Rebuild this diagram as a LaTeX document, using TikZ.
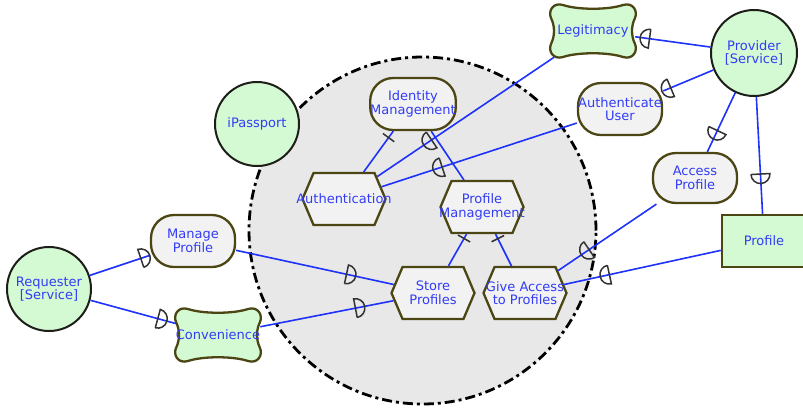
\documentclass[tikz,border=0pt]{standalone}
\usepackage{fontspec}
\newfontfamily\lblfont{DejaVu Sans}
\usetikzlibrary{shapes.symbols,decorations.markings}

\definecolor{linkblue}{RGB}{30,50,250}
\definecolor{textblue}{RGB}{50,60,245}
\definecolor{actorgreen}{RGB}{212,250,212}
\definecolor{elemgray}{RGB}{242,242,242}
\definecolor{boundgray}{RGB}{232,232,232}
\definecolor{oliveline}{RGB}{75,70,20}
\definecolor{actorline}{RGB}{30,30,25}
\definecolor{markgray}{RGB}{50,50,50}

% softgoal outline: a box with bulging corners and slightly hollow sides
\newcommand\cloudat[2]{%
  \draw[draw=oliveline, line width=2.3pt, fill=actorgreen, shift={(#1,#2)}]
    (-30,-26) .. controls (-15,-21) and (15,-21) .. (30,-26)
    .. controls (40,-29) and (45,-20) .. (42,-13)
    .. controls (38,-5) and (38,5) .. (42,13)
    .. controls (45,20) and (40,29) .. (30,26)
    .. controls (15,21) and (-15,21) .. (-30,26)
    .. controls (-40,29) and (-45,20) .. (-42,13)
    .. controls (-38,5) and (-38,-5) .. (-42,-13)
    .. controls (-45,-20) and (-40,-29) .. (-30,-26) -- cycle;}

\begin{document}
\begin{tikzpicture}[x=1pt, y=-1pt,
  lbl/.style={text=textblue, align=center, inner sep=0pt,
    font=\lblfont\fontsize{13}{13.5}\selectfont},
  actor/.style={lbl, circle, draw=actorline, line width=2pt,
    fill=actorgreen, minimum size=#1},
  goal/.style={lbl, rectangle, rounded corners=23pt, draw=oliveline,
    line width=2.3pt, fill=elemgray, minimum width=84pt, minimum height=52pt},
  % hexagonal task; its text is set as a centred label so that it may overhang
  task/.style={signal, signal to=east and west, signal pointer angle=134,
    draw=oliveline, line width=2.3pt, fill=elemgray, inner sep=0pt,
    minimum width=83pt, minimum height=52pt,
    label={[lbl]center:#1}},
  softgoal/.style={lbl, rectangle, minimum width=84pt, minimum height=52pt},
  resource/.style={lbl, rectangle, draw=oliveline, line width=2.5pt,
    fill=actorgreen, minimum width=84pt, minimum height=52pt},
  boundary/.style={circle, draw=black, fill=boundgray, line width=2.8pt,
    dash pattern=on 10pt off 4pt on 3pt off 4pt, minimum size=347pt, inner sep=0pt},
  link/.style={draw=linkblue, line width=1.6pt},
  dep/.style={postaction={decorate, decoration={markings,
    mark=at position #1 with {\draw[markgray, line width=1.5pt]
      (0pt,-9.5pt) -- (0pt,9.5pt) arc[start angle=90, end angle=-90, radius=9.5pt];}}}},
  decomp/.style={postaction={decorate, decoration={markings,
    mark=at position #1 with {\draw[markgray, line width=1.5pt]
      (0pt,-7pt) -- (0pt,7pt);}}}},
]
\useasboundingbox (0,0) rectangle (803,408);

% actor boundary of iPassport
\node[boundary] (ipboundary) at (422.5,230.5) {};

% softgoal outlines
\cloudat{218}{335}
\cloudat{593}{31}

% actors
\node[actor=84pt] (requester) at (49,289) {Requester\\{}[Service]};
\node[actor=84pt] (ipass) at (257,124) {iPassport};
\node[actor=86pt] (provider) at (754,53) {Provider\\{}[Service]};

% intentional elements
\node[goal] (manage) at (193,241) {Manage\\Profile};
\node[softgoal] (conven) at (218,335) {Convenience};
\node[goal] (idm) at (413,104) {Identity\\Management};
\node[task={Authentication}] (auth) at (344,199) {};
\node[task={Profile\\Management}] (pm) at (482,207) {};
\node[task={Store\\Profiles}] (store) at (433,293) {};
\node[task={Give Access\\to Profiles}] (give) at (525,293) {};
\node[softgoal] (legit) at (593,31) {Legitimacy};
\node[goal] (authuser) at (620,109) {Authenticate\\User};
\node[goal, minimum height=50pt] (access) at (695,178) {Access\\Profile};
\node[resource] (profile) at (764,241) {Profile};

% dependencies
\draw[link, dep=0.85] (requester) -- (manage);
\draw[link, dep=0.79] (requester) -- (conven);
\draw[link, dep=0.70] (manage) -- (store);
\draw[link, dep=0.714] (conven) -- (store);
\draw[link, dep=0.81] (provider) -- (legit);
\draw[link, dep=0.85] (provider) -- (authuser);
\draw[link, dep=0.69] (authuser) -- (auth);
\draw[link, dep=0.693] (legit) -- (auth);
\draw[link, dep=0.64] (provider) -- (access);
\draw[link, dep=0.66] (provider) -- (profile);
\draw[link, dep=0.711] (profile) -- (give);
\draw[link, dep=0.687] (access) -- (give);

% decompositions
\draw[link, decomp=8pt] (idm) -- (auth);
\draw[link] (idm) -- (pm);
\draw[link, decomp=5pt] (pm) -- (store);
\draw[link, decomp=5pt] (pm) -- (give);
\end{tikzpicture}
\end{document}
